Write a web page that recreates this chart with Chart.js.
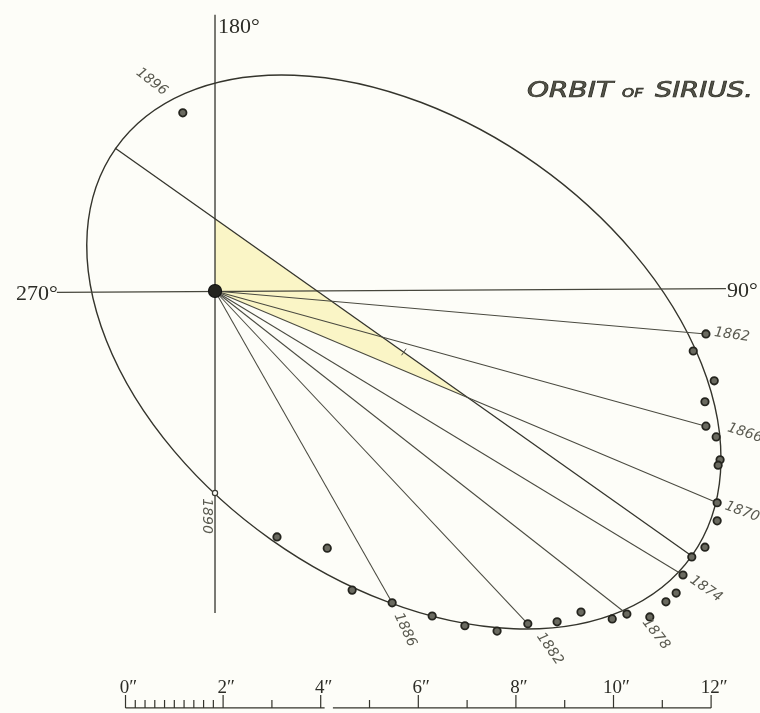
<!DOCTYPE html>
<html>
<head>
<meta charset="utf-8">
<script src="https://cdn.jsdelivr.net/npm/chart.js@4.4.1/dist/chart.umd.min.js"></script>
<style>
  html, body { margin: 0; padding: 0; background: #fdfdf8; }
  canvas { display: block; }
</style>
</head>
<body>
<canvas id="orbit" width="760" height="713"></canvas>
<script>
// Apparent orbit of Sirius B about Sirius A.
// Offsets in seconds of arc, Sirius A at the origin, x to the right, y up.

// Observed positions of the companion, in time order 1862 ... 1896
const obsX = [10.06, 9.80, 10.23, 10.04, 10.06, 10.27, 10.35, 10.31, 10.29, 10.29, 10.04, 9.77,
              9.59, 9.45, 9.24, 8.91, 8.44, 8.14, 7.50, 7.01, 6.41, 5.78, 5.12, 4.45,
              3.63, 2.81, 2.30, 1.27, 0.00, -0.66];
const obsY = [-0.88, -1.23, -1.84, -2.27, -2.77, -2.99, -3.46, -3.57, -4.34, -4.71, -5.25, -5.45,
              -5.82, -6.19, -6.37, -6.68, -6.62, -6.72, -6.58, -6.78, -6.82, -6.97, -6.86, -6.66,
              -6.39, -6.13, -5.27, -5.04, -4.14, 3.65];

// Year labels and the observation each one belongs to
const yearLabels = ['1862', '1866', '1870', '1874', '1878', '1882', '1886', '1890', '1896'];
const yearIndex  = [0, 4, 8, 12, 16, 20, 24, 28, 29];

// Radius vectors are drawn from Sirius A to these observations
const radiusIndex = [0, 4, 8, 12, 16, 20, 24];
// The radius that bounds the shaded sector (1870)
const sectorRadius = 8;

// Index of the 1890 position (drawn as an open ring)
const openIndex = [28];

// Fitted apparent ellipse: centre, semi-axes, tilt of the major axis (deg, from +x)
const orbitCenter = [3.87, -1.25];
const orbitAxes   = [7.23, 4.71];
const orbitTilt   = -35.3;

// Line of apsides across the ellipse
const apsisX = [-2.05, 9.77];
const apsisY = [2.93, -5.43];

// Cross-hair through Sirius A (north-south and east-west lines)
const meridianX = [0, 0];
const meridianY = [5.66, -6.60];
const parallelX = [-3.24, 10.47];
const parallelY = [-0.03, 0.05];
const compassLabels = ['180°', '270°', '90°'];

// Scale of seconds of arc under the figure
const scaleMajor  = [0, 2, 4, 6, 8, 10, 12];
const scaleLabels = ['0″', '2″', '4″', '6″', '8″', '10″', '12″'];
const scaleOdd    = [3, 5, 7, 9, 11];
const scaleFine   = [0.2, 0.4, 0.6, 0.8, 1.0, 1.2, 1.4, 1.6, 1.8];

// ---- layout / style -------------------------------------------------------
const view = { xMin: -4.406, xMax: 11.168, yMin: -8.648, yMax: 5.963 };
const scaleBar = { x0: -1.834, y: -8.545, gapFrom: 4.08, gapTo: 4.25 };
const ink = '#34342c';
const paper = '#fdfdf8';

// year label placement: pixel offset from its point and rotation (deg)
const yearStyle = [
  { dx: 26, dy: 1,  rot: 8 },
  { dx: 39, dy: 7,  rot: 18 },
  { dx: 25, dy: 9,  rot: 20 },
  { dx: 23, dy: 14, rot: 35 },
  { dx: 29, dy: 20, rot: 52 },
  { dx: 22, dy: 25, rot: 55 },
  { dx: 13, dy: 27, rot: 65 },
  { dx: -8, dy: 23, rot: 90 },
  { dx: -31, dy: -31, rot: 38 }
];

const pt = (xs, ys) => xs.map((x, i) => ({ x, y: ys[i] }));

function intersect(a1, a2, b1, b2) {
  const d = (a1.x - a2.x) * (b1.y - b2.y) - (a1.y - a2.y) * (b1.x - b2.x);
  const t = ((a1.x - b1.x) * (b1.y - b2.y) - (a1.y - b1.y) * (b1.x - b2.x)) / d;
  return { x: a1.x + t * (a2.x - a1.x), y: a1.y + t * (a2.y - a1.y) };
}

const origin = { x: 0, y: 0 };
const observations = pt(obsX, obsY);
const apsis = pt(apsisX, apsisY);

// shaded sector: Sirius A, where the apsis line crosses the meridian, and
// where it crosses the 1870 radius vector
const sectorTop = intersect(apsis[0], apsis[1], { x: 0, y: 1 }, { x: 0, y: -1 });
const sectorTip = intersect(apsis[0], apsis[1], origin, observations[sectorRadius]);

const lineDefaults = {
  type: 'line', showLine: true, pointRadius: 0, tension: 0, fill: false,
  borderColor: ink, borderWidth: 1.1, clip: false
};

const datasets = [
  Object.assign({}, lineDefaults, {
    label: 'sector', data: [origin, sectorTop, sectorTip, origin],
    fill: 'shape', backgroundColor: '#faf5c6', borderWidth: 0, order: 20
  }),
  Object.assign({}, lineDefaults, { label: 'meridian', data: pt(meridianX, meridianY), borderWidth: 1.3, order: 15 }),
  Object.assign({}, lineDefaults, { label: 'parallel', data: pt(parallelX, parallelY), borderWidth: 1.2, borderColor: '#46463c', order: 15 }),
  Object.assign({}, lineDefaults, { label: 'apsides', data: apsis, borderWidth: 1.3, order: 14 })
];

radiusIndex.forEach(i => {
  datasets.push(Object.assign({}, lineDefaults, {
    label: 'radius ' + i, data: [origin, observations[i]],
    borderColor: '#4a4a40', borderWidth: 1.05, order: 13
  }));
});

datasets.push({
  label: 'observed', type: 'scatter',
  data: observations.filter((_, i) => !openIndex.includes(i)),
  pointRadius: 3.7, pointBorderWidth: 1.8,
  pointBackgroundColor: '#6a6a60', pointBorderColor: '#24241e', clip: false, order: 3
});
datasets.push({
  label: 'observed 1890', type: 'scatter',
  data: openIndex.map(i => observations[i]),
  pointRadius: 2.6, pointBorderWidth: 1.2,
  pointBackgroundColor: paper, pointBorderColor: '#3a3a32', clip: false, order: 3
});
datasets.push({
  label: 'Sirius', type: 'scatter', data: [origin],
  pointRadius: 6.5, pointBorderWidth: 1.2,
  pointBackgroundColor: '#24241f', pointBorderColor: '#111110', clip: false, order: 1
});
// centre of the ellipse, marked with a short stroke across the apsis line
datasets.push({
  label: 'centre', type: 'scatter', data: [{ x: orbitCenter[0], y: orbitCenter[1] }],
  pointStyle: 'line', rotation: -55, pointRadius: 4, pointBorderWidth: 1,
  pointBorderColor: '#4a4a40', clip: false, order: 2
});

const paperPlugin = {
  id: 'paper',
  beforeDraw(chart) {
    const c = chart.ctx;
    c.save();
    c.fillStyle = paper;
    c.fillRect(0, 0, chart.width, chart.height);
    c.restore();
  }
};

const orbitPlugin = {
  id: 'orbitEllipse',
  beforeDatasetsDraw(chart) {
    const c = chart.ctx, xs = chart.scales.x, ys = chart.scales.y;
    const k = xs.getPixelForValue(1) - xs.getPixelForValue(0);
    c.save();
    c.beginPath();
    c.ellipse(xs.getPixelForValue(orbitCenter[0]), ys.getPixelForValue(orbitCenter[1]),
              orbitAxes[0] * k, orbitAxes[1] * k, -orbitTilt * Math.PI / 180, 0, Math.PI * 2);
    c.strokeStyle = ink;
    c.lineWidth = 1.4;
    c.stroke();
    c.restore();
  }
};

function fitText(c, str, x, y, w) {
  const m = c.measureText(str).width;
  c.save();
  c.translate(x, y);
  c.scale(w / m, 1);
  c.fillText(str, 0, 0);
  c.strokeText(str, 0, 0);
  c.restore();
}

const textPlugin = {
  id: 'annotations',
  afterDatasetsDraw(chart) {
    const c = chart.ctx, xs = chart.scales.x, ys = chart.scales.y;
    c.save();

    // year labels along the orbit
    c.font = 'italic 14px "DejaVu Sans"';
    c.fillStyle = '#5a5a50';
    c.textAlign = 'center';
    c.textBaseline = 'middle';
    yearLabels.forEach((t, j) => {
      const p = observations[yearIndex[j]], s = yearStyle[j];
      c.save();
      c.translate(xs.getPixelForValue(p.x) + s.dx, ys.getPixelForValue(p.y) + s.dy);
      c.rotate(s.rot * Math.PI / 180);
      c.fillText(t, 0, 0);
      c.restore();
    });

    // position-angle labels at the ends of the cross-hair
    c.font = '22px "Liberation Serif"';
    c.fillStyle = '#2c2c26';
    c.textBaseline = 'alphabetic';
    c.textAlign = 'left';
    c.fillText(compassLabels[0], xs.getPixelForValue(meridianX[0]) + 3, ys.getPixelForValue(meridianY[0]) + 18);
    c.textAlign = 'right';
    c.fillText(compassLabels[1], xs.getPixelForValue(parallelX[0]) + 1, ys.getPixelForValue(parallelY[0]) + 8);
    c.textAlign = 'left';
    c.fillText(compassLabels[2], xs.getPixelForValue(parallelX[1]) + 1, ys.getPixelForValue(parallelY[1]) + 8);

    // title
    c.fillStyle = '#55554a';
    c.strokeStyle = '#2e2e27';
    c.lineWidth = 0.7;
    c.textAlign = 'left';
    c.font = 'italic 21px "DejaVu Sans"';
    fitText(c, 'ORBIT', 527, 97, 86);
    c.font = 'italic 13px "DejaVu Sans"';
    fitText(c, 'OF', 622, 97, 21);
    c.font = 'italic 21px "DejaVu Sans"';
    fitText(c, 'SIRIUS.', 655, 97, 98);

    // scale of seconds of arc
    const bx = v => xs.getPixelForValue(scaleBar.x0 + v);
    const by = ys.getPixelForValue(scaleBar.y);
    c.strokeStyle = ink;
    c.lineWidth = 1.2;
    c.beginPath();
    c.moveTo(bx(0), by); c.lineTo(bx(scaleBar.gapFrom), by);
    c.moveTo(bx(scaleBar.gapTo), by); c.lineTo(bx(12), by);
    scaleMajor.forEach(v => { c.moveTo(bx(v), by); c.lineTo(bx(v), by - 13); });
    scaleOdd.forEach(v => { c.moveTo(bx(v), by); c.lineTo(bx(v), by - 8); });
    scaleFine.forEach(v => { c.moveTo(bx(v), by); c.lineTo(bx(v), by - 8); });
    c.stroke();
    c.font = '19px "Liberation Serif"';
    c.fillStyle = '#2c2c26';
    c.textAlign = 'center';
    scaleMajor.forEach((v, j) => c.fillText(scaleLabels[j], bx(v) + 3, by - 15));

    c.restore();
  }
};

new Chart(document.getElementById('orbit'), {
  type: 'scatter',
  data: { datasets },
  options: {
    responsive: false,
    animation: false,
    events: [],
    layout: { padding: 0, autoPadding: false },
    plugins: { legend: { display: false }, tooltip: { enabled: false } },
    scales: {
      x: { type: 'linear', display: false, min: view.xMin, max: view.xMax },
      y: { type: 'linear', display: false, min: view.yMin, max: view.yMax }
    }
  },
  plugins: [paperPlugin, orbitPlugin, textPlugin]
});
</script>
</body>
</html>
